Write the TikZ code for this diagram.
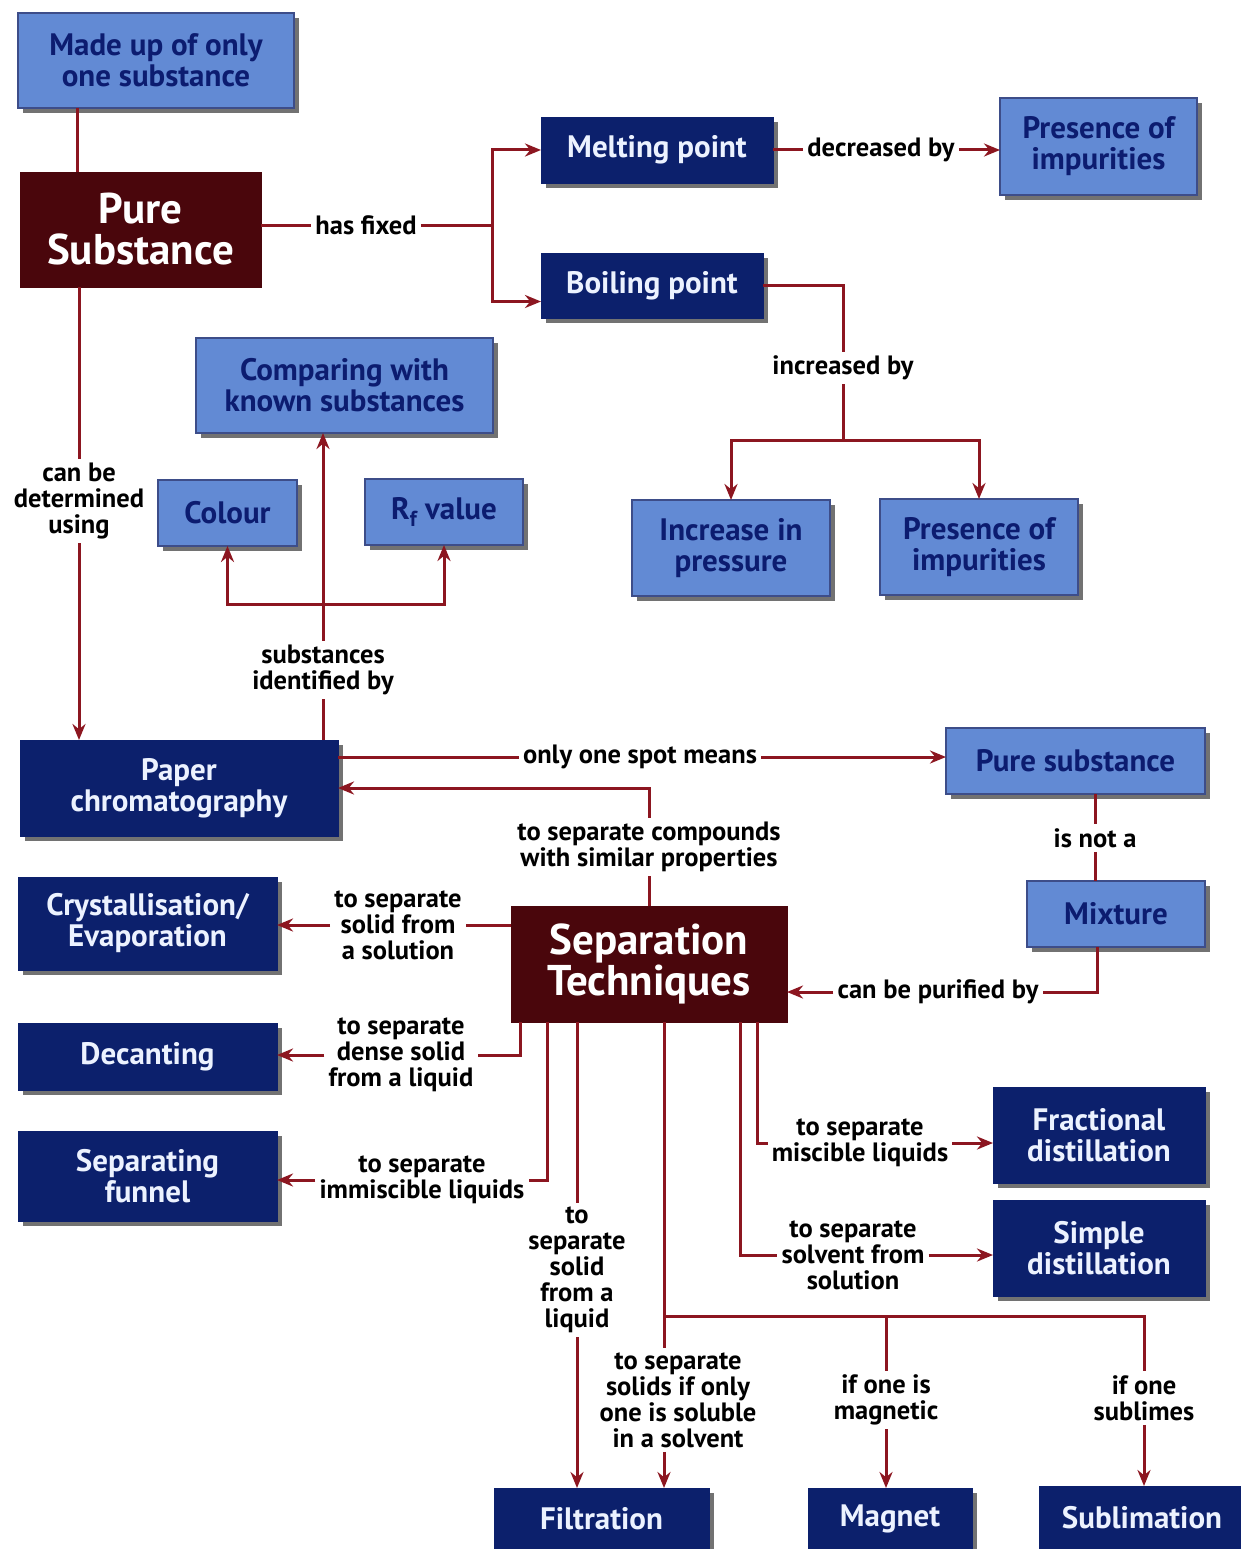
\documentclass[tikz,border=0pt]{standalone}
\usepackage{fontspec}
\setmainfont{PT Sans}
\usetikzlibrary{arrows.meta,shadows}
\definecolor{lb}{RGB}{98,138,212}
\definecolor{lbtext}{RGB}{12,28,112}
\definecolor{navy}{RGB}{12,32,108}
\definecolor{navytext}{RGB}{236,242,255}
\definecolor{maroon}{RGB}{74,6,12}
\definecolor{ln}{RGB}{140,22,32}
\begin{document}
\begin{tikzpicture}[x=1pt,y=-1pt,
  shad/.style={drop shadow={shadow xshift=5pt,shadow yshift=-5pt,fill=black!85,opacity=.65}},
  lbox/.style={shad,rectangle,fill=lb,draw=navy!80,line width=1.5pt,text=lbtext,align=center,outer sep=0pt,
    font=\fontsize{31}{31}\selectfont\bfseries},
  nbox/.style={shad,rectangle,fill=navy,draw=navy,text=navytext,align=center,outer sep=0pt,
    font=\fontsize{31}{31}\selectfont\bfseries},
  mbox/.style={rectangle,fill=maroon,draw=maroon,text=white,align=center,outer sep=0pt,
    font=\fontsize{43}{41}\selectfont\bfseries},
  lbl/.style={fill=white,align=center,inner sep=4pt,text=black,
    font=\fontsize{26.5}{26}\selectfont\bfseries},
  conn/.style={draw=ln,line width=3pt},
  arr/.style={conn,-{Stealth[length=16pt,width=13pt]}},
  darr/.style={conn,{Stealth[length=16pt,width=13pt]}-{Stealth[length=16pt,width=13pt]}}]
\useasboundingbox (0,0) rectangle (1240,1549);

% helper columns
\coordinate (c77) at (77,0);
\coordinate (c520) at (520,0);
\coordinate (c547) at (547,0);
\coordinate (c740) at (740,0);
\coordinate (c757) at (757,0);
\coordinate (c1097) at (1097,0);

% boxes
\node[lbox,minimum width=276pt,minimum height=95pt] (made) at (156,60.5) {Made up of only\\one substance};
\node[mbox,minimum width=241pt,minimum height=115pt] (pure) at (140.5,229.5) {Pure\\Substance};
\node[nbox,minimum width=232pt,minimum height=66pt] (melt) at (657,150) {Melting point};
\node[lbox,minimum width=197pt,minimum height=97pt] (imp1) at (1098.5,146.5) {Presence of\\impurities};
\node[nbox,minimum width=222pt,minimum height=65pt] (boil) at (652,285.5) {Boiling point};
\node[lbox,minimum width=297pt,minimum height=95pt] (comp) at (344.5,385.5) {Comparing with\\known substances};
\node[lbox,minimum width=139pt,minimum height=66pt] (colour) at (227.5,513) {Colour};
\node[lbox,minimum width=158pt,minimum height=66pt] (rf) at (444,512) {R\textsubscript{f} value};
\node[lbox,minimum width=198pt,minimum height=96pt] (press) at (731,548) {Increase in\\pressure};
\node[lbox,minimum width=198pt,minimum height=96pt] (imp2) at (979,547) {Presence of\\impurities};
\node[nbox,minimum width=318pt,minimum height=96pt] (paper) at (179,788) {Paper\\chromatography};
\node[lbox,minimum width=259pt,minimum height=66pt] (pures) at (1075.5,761) {Pure substance};
\node[lbox,minimum width=178pt,minimum height=66pt] (mix) at (1116,914) {Mixture};
\node[nbox,minimum width=259pt,minimum height=93pt] (cryst) at (147.5,923.5) {Crystallisation/\\Evaporation};
\node[mbox,minimum width=276pt,minimum height=116pt] (sep) at (649,964) {Separation\\Techniques};
\node[nbox,minimum width=259pt,minimum height=67pt] (dec) at (147.5,1056.5) {Decanting};
\node[nbox,minimum width=259pt,minimum height=90pt] (funnel) at (147.5,1176) {Separating\\funnel};
\node[nbox,minimum width=212pt,minimum height=96pt] (frac) at (1099,1135) {Fractional\\distillation};
\node[nbox,minimum width=212pt,minimum height=96pt] (simple) at (1099,1248) {Simple\\distillation};
\node[nbox,minimum width=215pt,minimum height=62pt,anchor=north] (filt) at (601.5,1488) {Filtration};
\node[nbox,minimum width=164pt,minimum height=62pt,anchor=north] (magnet) at (890,1488) {Magnet};
\node[nbox,minimum width=205pt,minimum height=64pt,anchor=north] (subl) at (1142,1486) {Sublimation};

% labels
\node[lbl] (lhas) at (366,225) {has fixed};
\node[lbl] (ldecr) at (881,150) {decreased by};
\node[lbl] (linc) at (843,368) {increased by};
\node[lbl] (ldet) at (79,501) {can be\\determined\\using};
\node[lbl] (lid) at (323,670) {substances\\identified by};
\node[lbl] (lspot) at (640,757) {only one spot means};
\node[lbl] (lcomp) at (649,847) {to separate compounds\\with similar properties};
\node[lbl] (lnot) at (1095,838) {is not a};
\node[lbl] (lpur) at (938,992) {can be purified by};
\node[lbl] (lcry) at (398,925) {to separate\\solid from\\a solution};
\node[lbl] (ldecant) at (401,1055) {to separate\\dense solid\\from a liquid};
\node[lbl] (lfun) at (422,1180) {to separate\\immiscible liquids};
\node[lbl] (lfil) at (577,1270) {to\\separate\\solid\\from a\\liquid};
\node[lbl] (lsol) at (678,1400) {to separate\\solids if only\\one is soluble\\in a solvent};
\node[lbl] (lmag) at (886,1400) {if one is\\magnetic};
\node[lbl] (lsub) at (1144,1398) {if one\\sublimes};
\node[lbl] (lfra) at (860,1143) {to separate\\miscible liquids};
\node[lbl] (lsim) at (853,1255) {to separate\\solvent from\\solution};

% junctions
\coordinate (jf) at (492,225);
\coordinate (jinc) at (843,440);
\coordinate (jcr) at (323,604);
\coordinate (jb) at (664,1316);

% connectors
\draw[conn] (made.south -| c77) -- (pure.north -| c77);
\draw[conn] (pure.east |- lhas) -- (lhas);
\draw[conn] (lhas) -- (jf);
\draw[arr] (jf) |- (melt.west);
\draw[arr] (jf) |- ([yshift=-16pt]boil.west);
\draw[conn] (melt.east) -- (ldecr);
\draw[arr] (ldecr) -- (ldecr -| imp1.west);
\draw[conn] (boil.east) -| (linc);
\draw[conn] (linc) -- (jinc);
\draw[darr] (press.north) |- (jinc) -| (imp2.north);
\draw[conn] (pure.south -| ldet) -- (ldet);
\draw[arr] (ldet) -- (ldet |- paper.north);
\draw[conn] (paper.north -| lid) -- (lid);
\draw[arr] (lid) -- (lid |- comp.south);
\draw[darr] (colour.south) |- (jcr) -| (rf.south);
\draw[conn] (paper.east |- lspot) -- (lspot);
\draw[arr] (lspot) -- (lspot -| pures.west);
\draw[conn] (sep.north) -- (lcomp);
\draw[arr] (lcomp) |- (paper.east);
\draw[conn] (pures.south -| lnot) -- (lnot) -- (lnot |- mix.north);
\draw[conn] (mix.south -| c1097) |- (lpur);
\draw[arr] (lpur) -- (lpur -| sep.east);
\draw[conn] (sep.west |- lcry) -- (lcry);
\draw[arr] (lcry) -- (lcry -| cryst.east);
\draw[conn] (sep.south -| c520) |- (ldecant);
\draw[arr] (ldecant) -- (ldecant -| dec.east);
\draw[conn] (sep.south -| c547) |- (lfun);
\draw[arr] (lfun) -- (lfun -| funnel.east);
\draw[conn] (sep.south -| lfil) -- (lfil);
\draw[arr] (lfil) -- (lfil |- filt.north);
\draw[conn] (sep.south -| jb) -- (jb) -- (lsol.north -| jb);
\draw[arr] (lsol.south -| jb) -- (jb |- filt.north);
\draw[conn] (jb) -- (jb -| lsub) -- (lsub);
\draw[conn] (jb -| lmag) -- (lmag);
\draw[arr] (lmag) -- (lmag |- magnet.north);
\draw[arr] (lsub) -- (lsub |- subl.north);
\draw[conn] (sep.south -| c757) |- (lfra);
\draw[arr] (lfra) -- (lfra -| frac.west);
\draw[conn] (sep.south -| c740) |- (lsim);
\draw[arr] (lsim) -- (lsim -| simple.west);
\end{tikzpicture}
\end{document}
